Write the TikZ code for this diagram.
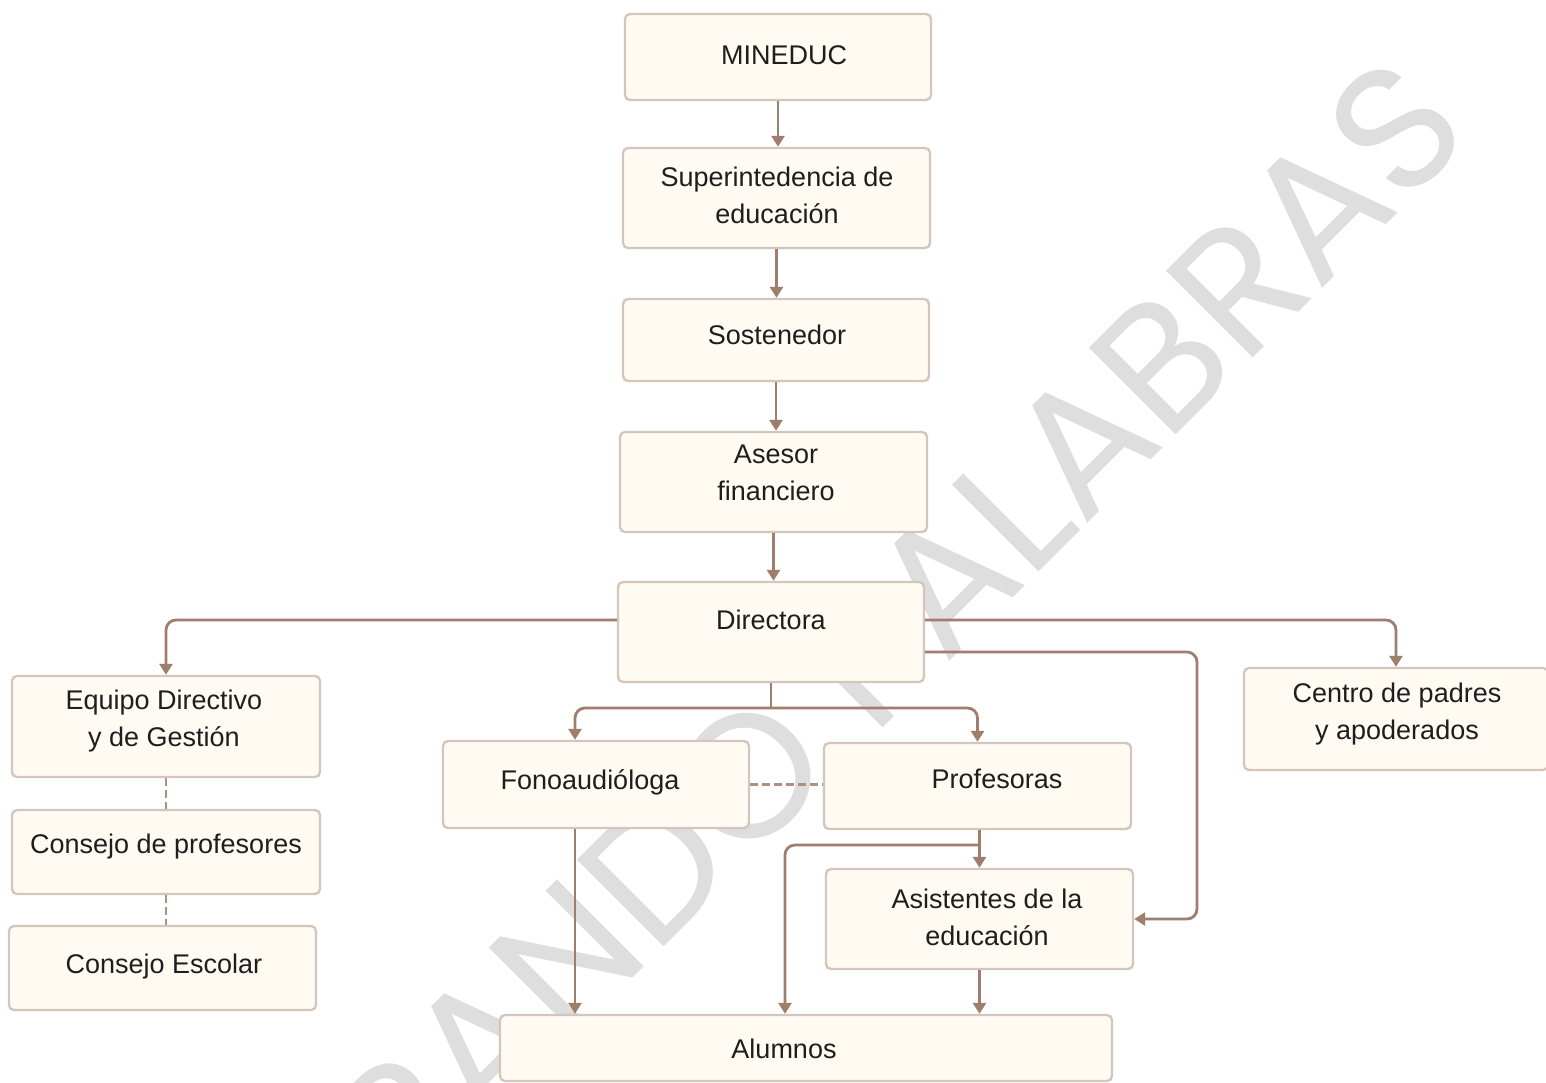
\documentclass[tikz,border=0pt]{standalone}
\usepackage{fontspec}
\setmainfont{Liberation Sans}
\newfontfamily\wmfont{Poppins}
\usetikzlibrary{arrows.meta,calc}
\definecolor{conn}{RGB}{160,126,110}
\definecolor{boxb}{RGB}{212,198,188}
\definecolor{boxf}{RGB}{255,251,243}
\definecolor{wm}{RGB}{222,222,222}
\definecolor{txtc}{RGB}{30,30,30}
\begin{document}
\begin{tikzpicture}[x=1pt,y=-1pt,
  orgbox/.style={draw=boxb,fill=boxf,line width=2.4pt,rounded corners=5pt,inner sep=0pt},
  lbl/.style={font=\fontsize{27}{37}\selectfont,text=txtc,align=center,inner sep=0pt},
  link/.style={draw=conn,line width=2.8pt,rounded corners=10pt,-{Triangle[length=11pt,width=13pt]}},
  plainlink/.style={draw=conn,line width=2.8pt},
  dashlink/.style={draw=conn!85,line width=2.6pt,dash pattern=on 8pt off 4pt}]
\useasboundingbox (0,0) rectangle (1546,1083);
\fill[white] (0,0) rectangle (1546,1083);
% watermark
\node[rotate=45,anchor=base east,text=wm,inner sep=0pt,font=\wmfont\fontsize{176}{180}\selectfont] (wmk) at (1476,135) {BORRANDO PALABRAS};
% boxes
\node[orgbox,minimum width=306pt,minimum height=86pt] (min) at (778,57) {};
\node[orgbox,minimum width=307pt,minimum height=100pt] (sup) at (776.5,198) {};
\node[orgbox,minimum width=306pt,minimum height=82pt] (sos) at (776,340) {};
\node[orgbox,minimum width=307pt,minimum height=100pt] (ase) at (773.5,482) {};
\node[orgbox,minimum width=306pt,minimum height=100pt] (dir) at (771,632) {};
\node[orgbox,minimum width=308pt,minimum height=101pt] (equ) at (166,726.5) {};
\node[orgbox,minimum width=308pt,minimum height=84pt] (cpr) at (166,852) {};
\node[orgbox,minimum width=307pt,minimum height=84pt] (ces) at (162.5,968) {};
\node[orgbox,minimum width=306pt,minimum height=87pt] (fon) at (596,784.5) {};
\node[orgbox,minimum width=307pt,minimum height=86pt] (pro) at (977.5,786) {};
\node[orgbox,minimum width=307pt,minimum height=100pt] (asi) at (979.5,919) {};
\node[orgbox,minimum width=304pt,minimum height=102pt] (cen) at (1396,719) {};
\node[orgbox,minimum width=612pt,minimum height=66pt] (alu) at (806,1048) {};
% labels
\node[lbl] (minT) at (784,55) {MINEDUC};
\node[lbl] (supT) at (777,195) {Superintedencia de\\educación};
\node[lbl] (sosT) at (777,335) {Sostenedor};
\node[lbl] (aseT) at (776,473) {Asesor\\financiero};
\node[lbl] (dirT) at (771,620) {Directora};
\node[lbl] (equT) at (164,721) {Equipo Directivo\\y de Gestión};
\node[lbl] (cprT) at (166,847) {Consejo de profesores};
\node[lbl] (cesT) at (164,967) {Consejo Escolar};
\node[lbl] (fonT) at (590,782) {Fonoaudióloga};
\node[lbl] (proT) at (997,779) {Profesoras};
\node[lbl] (asiT) at (987,917) {Asistentes de la\\educación};
\node[lbl] (cenT) at (1397,714) {Centro de padres\\y apoderados};
\node[lbl] (aluT) at (784,1049) {Alumnos};
% helper coordinates
\coordinate (rt) at (1197,919);
\coordinate (jn) at (771,708);
\coordinate (jb) at (979.5,845);
\coordinate (ab) at (785,0);
% connectors
\draw[link] (min.south) -- (min.south |- sup.north);
\draw[link] (sup.south) -- (sup.south |- sos.north);
\draw[link] (sos.south) -- (sos.south |- ase.north);
\draw[link] (ase.south) -- (ase.south |- dir.north);
\draw[link] ([yshift=12pt]dir.west) -| (equ.north);
\draw[link] ([yshift=12pt]dir.east) -| (cen.north);
\draw[link] ([yshift=-20pt]dir.east) -| (rt) -- (asi.east);
\draw[plainlink] (dir.south) -- (jn);
\draw[link] (jn) -| ([xshift=-21pt]fon.north);
\draw[link] (jn) -| (pro.north);
\draw[link] ([xshift=-21pt]fon.south) -- ([xshift=-21pt]fon.south |- alu.north);
\draw[link] (asi.north |- pro.south) -- (asi.north);
\draw[link] (jb) -| (ab |- alu.north);
\draw[link] (asi.south) -- (asi.south |- alu.north);
\draw[dashlink] (fon.east) -- (fon.east -| pro.west);
\draw[dashlink] (equ.south) -- (equ.south |- cpr.north);
\draw[dashlink] (cpr.south) -- (cpr.south |- ces.north);
\end{tikzpicture}
\end{document}
